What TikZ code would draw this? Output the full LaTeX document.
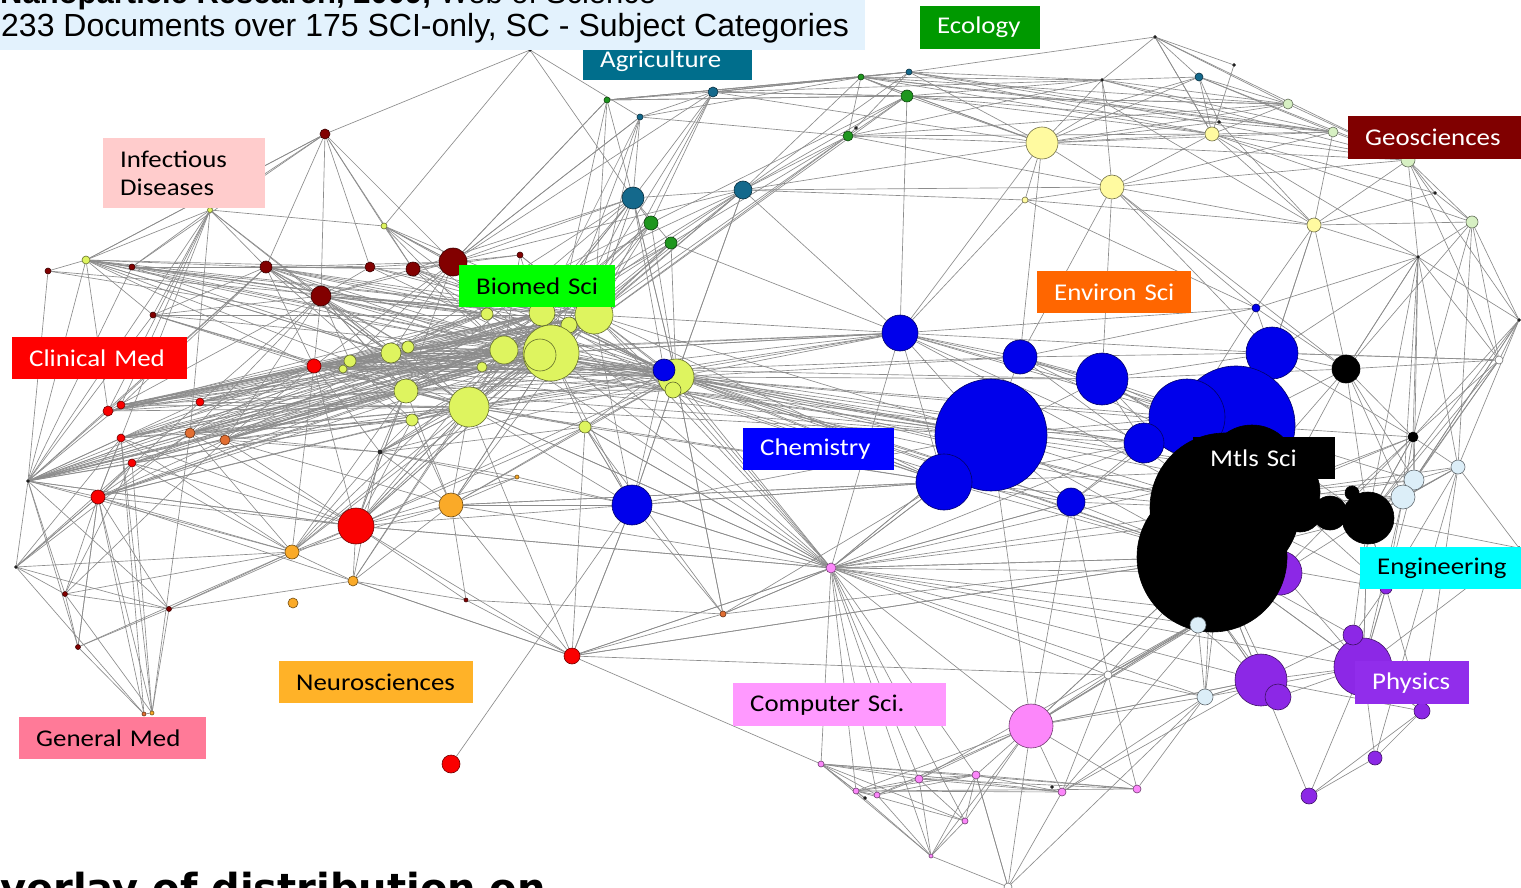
\documentclass[tikz,border=0pt]{standalone}
\usepackage{fontspec}
\newfontfamily\labfont[FakeStretch=1.12]{Carlito}
\newfontfamily\titlefont{Liberation Sans}
\newfontfamily\botfont{DejaVu Sans}
\pgfdeclarelayer{bg}
\pgfsetlayers{bg,main}
\definecolor{cyg}{RGB}{222,244,95}
\definecolor{cbl}{RGB}{0,0,235}
\definecolor{cpu}{RGB}{140,40,230}
\definecolor{clb}{RGB}{220,238,248}
\definecolor{cpk}{RGB}{252,135,250}
\definecolor{crd}{RGB}{250,0,0}
\definecolor{cdr}{RGB}{130,0,0}
\definecolor{cor}{RGB}{250,170,40}
\definecolor{cbr}{RGB}{225,110,50}
\definecolor{ctl}{RGB}{20,105,140}
\definecolor{cgr}{RGB}{30,150,30}
\definecolor{cyl}{RGB}{255,250,160}
\definecolor{clg}{RGB}{215,240,195}
\definecolor{cwh}{RGB}{255,255,255}
\definecolor{ckk}{RGB}{0,0,0}
\definecolor{cdk}{RGB}{40,40,40}
\definecolor{cedge}{RGB}{140,140,140}
\definecolor{ctitle}{RGB}{227,242,253}
\definecolor{lagri}{RGB}{0,110,140}
\definecolor{leco}{RGB}{0,153,0}
\definecolor{lgeo}{RGB}{128,0,0}
\definecolor{linf}{RGB}{255,204,204}
\definecolor{lbio}{RGB}{0,255,0}
\definecolor{lenv}{RGB}{255,102,0}
\definecolor{lcli}{RGB}{255,0,0}
\definecolor{lchem}{RGB}{0,0,255}
\definecolor{leng}{RGB}{0,255,255}
\definecolor{lphy}{RGB}{145,45,235}
\definecolor{lcomp}{RGB}{255,153,255}
\definecolor{lneu}{RGB}{255,178,40}
\definecolor{lgen}{RGB}{255,122,152}
\tikzset{
  nd/.style={circle,line width=0.6pt,inner sep=0pt,minimum size=#1pt},
  edge/.style={draw=cedge,line width=0.65pt},
  lab/.style={rectangle,inner ysep=0pt,inner xsep=17pt,anchor=north west,align=left,
    font=\labfont\fontsize{24}{28}\selectfont}
}
\begin{document}
\begin{tikzpicture}[x=1pt,y=-1pt]
\useasboundingbox (0,0) rectangle (1521,888);
\clip (0,0) rectangle (1521,888);
% ---------- nodes ----------
\foreach \n/\x/\y/\d/\c in {
 y1/594/315/38/cyg, y2/542/313/26/cyg, y3/569/325/16/cyg, y4/551/353/56/cyg, y4b/540/355/32/cyg,
 y5/504/350/28/cyg, y6/487/314/12/cyg, y7/482/367/10/cyg, y8/391/353/20/cyg, y9/408/347/12/cyg,
 y10/350/361/12/cyg, y11/343/369/8/cyg, y12/406/391/24/cyg, y13/469/407/40/cyg, y14/412/420/12/cyg,
 y15/676/377/36/cyg, y16/673/390/16/cyg, y17/585/427/12/cyg, y18/86/260/8/cyg, y19/384/226/6/cyg,
 b1/664/370/22/cbl, b2/632/505/40/cbl, b3/900/333/36/cbl, b4/1020/357/34/cbl, b5/1102/379/52/cbl,
 b6/991/435/112/cbl, b7/944/482/56/cbl, b8/1071/502/28/cbl, b9/1272/353/52/cbl, b10/1236/425/118/cbl,
 b11/1187/417/76/cbl, b12/1144/443/40/cbl, b13/1256/308/8/cbl,
 p1/1280/573/44/cpu,
 k1/1225/508/150/ckk, k2/1212/557/150/ckk, k3/1252/470/90/ckk, k11/1280/492/80/ckk, k10/1300/510/44/ckk, k5/1330/513/34/ckk,
 k4/1368/518/52/ckk, k6/1352/493/14/ckk, k7/1215/612/34/ckk, k8/1346/369/28/ckk, k9/1413/437/10/ckk,
 p2/1261/680/52/cpu, p3/1278/697/26/cpu, p4/1363/667/58/cpu, p5/1353/635/20/cpu, p6/1422/711/16/cpu,
 p7/1375/758/14/cpu, p8/1309/796/16/cpu, p9/1386/588/12/cpu,
 e1/1414/480/20/clb, e2/1403/497/24/clb, e3/1458/467/14/clb, e4/1198/625/16/clb, e5/1205/697/16/clb,
 e6/1499/360/8/cwh, e7/1108/675/8/cwh, e8/1008/887/8/cwh,
 c1/1031/726/44/cpk, c2/831/568/10/cpk, c3/821/764/6/cpk, c4/856/791/6/cpk, c5/877/795/6/cpk,
 c6/919/779/8/cpk, c7/976/775/8/cpk, c8/965/821/6/cpk, c9/1062/792/8/cpk, c10/1137/789/8/cpk, c11/931/856/4/cpk,
 r1/356/526/36/crd, r2/98/497/14/crd, r3/314/366/14/crd, r4/572/656/16/crd, r5/451/764/18/crd,
 r6/108/411/10/crd, r7/121/405/8/crd, r8/121/438/8/crd, r9/132/463/8/crd, r10/200/402/8/crd,
 d1/453/262/28/cdr, d2/321/296/20/cdr, d3/413/269/14/cdr, d4/370/267/10/cdr, d5/266/267/12/cdr,
 d6/325/134/10/cdr, d7/520/255/6/cdr, d8/48/271/6/cdr, d9/132/267/6/cdr, d10/153/315/6/cdr,
 d11/65/594/5/cdr, d12/169/609/5/cdr, d13/78/647/5/cdr, d14/466/600/4/cdr,
 o1/451/505/24/cor, o2/292/552/14/cor, o3/353/581/10/cor, o4/293/603/10/cor, o5/190/433/10/cbr,
 o6/225/440/10/cbr, o7/723/614/6/cbr, o8/517/477/4/cor, o9/152/713/4/cor, o10/144/714/4/cbr,
 t1/633/198/22/ctl, t2/743/190/18/ctl, t3/713/92/10/ctl, t4/640/117/6/ctl, t5/909/72/6/ctl, t6/1199/77/8/ctl,
 g1/651/223/14/cgr, g2/671/243/12/cgr, g3/848/136/10/cgr, g4/907/96/12/cgr, g5/861/77/6/cgr, g6/607/100/6/cgr,
 w1/1042/143/32/cyl, w2/1112/187/24/cyl, w3/1212/134/14/cyl, w4/1314/225/14/cyl, w5/1025/200/6/cyl,
 l1/1288/104/10/clg, l2/1333/132/10/clg, l3/1408/160/14/clg, l4/1472/222/12/clg,
 v1/28/481/3/cdk, v2/16/567/3/cdk, v3/380/452/4/cdk, v4/1102/80/3/cdk, v5/1107/104/3/cwh,
 v6/1155/37/3/cdk, v7/1234/65/3/cdk, v8/1219/122/3/cdk, v9/1435/193/3/cdk, v10/1418/257/3/cdk,
 v11/865/798/3/cdk, v12/1052/787/3/cdk, v13/530/50/3/cdk, v14/1519/320/3/cdk, v15/1519/548/3/cdk,
 v16/210/210/5/cyg, v17/856/128/3/cdk}
 \node[nd=\d,fill=\c,draw=\c!45!black] (\n) at (\x,\y) {};
% ---------- connectors ----------
\begin{pgfonlayer}{bg}
\fill[white] (0,0) rectangle (1521,888);
\foreach \a/\l in {
 y4/{r3,y10,y11,y8,d2,d5,r6,r7,r8,r9,r10,o5,o6,v1,y18,d8,d9,d10,r2,r1,o1,o2,y13,y12,d1,d3,d4,y9,y14,y5,y2,y1,y3,y6,y7,v3},
 y1/{r3,y10,y8,d2,d5,r6,r7,r10,o5,o6,v1,y18,d9,d10,r1,o1,y12,y13,d1,d3,d4,d7,y5,y9,y11,y14,r9,r2,v3,y7},
 y5/{r3,y10,y11,r6,r8,o5,v1,d2,d5,y18,r1,o2,o3,d1,d3,y8,y12,y13,y9,r7,r10,o6},
 y2/{r3,y11,r7,r9,o6,v1,d8,d5,d2,d1,d3,d4,y19,y8,y12,y13,y10,r6,o5},
 y3/{r3,y10,r6,o5,o6,d2,d5,y18,r1,o1,y8,y12,y13,r8},
 y13/{r3,y10,r6,r7,r8,o5,o6,v1,d2,d5,r2,r1,o2,o3,v3,y12,y14,y8,y9,r9,r10,d10,c2},
 y12/{r3,y10,r6,r8,o5,v1,d2,r2,r1,o2,y8,r7,r9,d5,d10},
 y8/{y10,r6,r7,o5,d5,v1,y18,r8,r10,d9},
 y9/{y10,r3,r7,r10,d5,d2,r6,o6},
 y6/{y10,r3,d2,d5,r6,d9,y18,y8},
 y7/{r3,y11,r8,o6,v1,r2,y8,y12},
 y14/{r3,y10,r8,o5,o6,r2},
 y15/{y1,y2,y3,y4,y5,y6,y7,y8,y9,y10,y11,y12,y13,y14,y17,r3,d1,d2,o1,r1,b2,b3,b6,b7,b12,b11,k1,k2,b8,b4,b5,t1,t2,g1,g2,c2,v3,k3,b10,o7,y4b},
 b1/{y1,y2,y4,y5,y8,y10,y12,y13,r3,d1,d3,b6,b7,b12,k1,k2,b3,b4,b5,b8,y17,c2,y9,y11,y6,d2},
 y16/{y4,y5,y13,y12,y8,r3,b6,k2,b7,k1,b12,y1,y2,c2},
 y17/{y4,y13,o1,r1,b2,c2,v3,b7,y12},
 t1/{y1,y2,y4,y5,y13,y8,d1,g1,g2,t3,t4,g6,b1,y15,t2,d3,y12},
 t2/{y1,y4,y5,y13,y15,g3,g4,g5,t5,b3,d1,y8,w5,w1,w2,y2},
 g1/{y1,y4,y2,y13,g4,t3,y5,y8},
 g2/{y4,y5,y13,y1,g3,y12,b3},
 g3/{g5,t5,g4,w1,y4,y1,t4,v4,w2,v17,l1,w3},
 g4/{w1,v4,w3,l1,l2,y4,t3,g6,b3},
 g5/{t3,g6,v4,v5,w3,l1,l2,t5,g4,w1,t4},
 t3/{t4,g6,y4,y1,d1,g5,t5,w1,l1,v4},
 t5/{v4,v6,w1,w3,g6,l2,v5},
 t4/{y4,y1,y2,d1},
 g6/{y4,y1,d1,g4,t5},
 w1/{w3,w2,l1,l2,v4,v5,w5,b3,l3,v8,g5,b4},
 w2/{w5,w3,b4,b5,w4,l3,v4,b9,k8,b13,l2},
 w3/{l1,l2,l3,v6,v7,w4,l4,v9,v10},
 w4/{l3,l4,v9,v10,b9,k8,w5,v8,l2},
 v6/{t6,v7,w3,l1,v4,l3},
 t6/{v4,v5,l1,l2,v8,w1,w3,l3},
 v4/{l1,l2,v5,l3},
 v5/{l3,l2,w4},
 l3/{l4,v9,v10,e6,v14,l2,l1},
 l4/{v9,v10,e6,v14,e3,k9},
 v10/{e6,k9,e1,e2,k8,b9,e3,k4,v14},
 v14/{e6,e3,k4,e1,e2,k9},
 e6/{k8,k9,e1,e2,b9,k4},
 b3/{b4,b5,b6,b7,b11,b9,k1,b12,w5,y13,y5,y4,y1,y8,b13,r3,c2,y12,b10},
 b6/{b4,b5,b8,b11,b12,k1,k2,b7,k3,c2,y13,y4,y5,y8,r3,y1,y12,b10,k11},
 b7/{b8,b12,k1,k2,c2,b2,o1,y4,y13,y1,k3},
 b4/{b5,b11,b9,k1,b13,k3,b10},
 b5/{b11,b12,k1,b9,k3,k8,b10,k11},
 b8/{k1,k2,b12,b11,c2,k3},
 b9/{k8,b13,k3,k1,k9,e6,w4,k11,b10},
 b10/{k8,e1,k4,k9},
 b13/{w5,w4,k8,v10,b11},
 k8/{k9,e1,k4,k1,v10,l4,k11,e2},
 k4/{e1,e2,e3,k9,p9,p4,p5,e4,v15,k1,k2},
 k9/{e1,e2,e3,k4,k6,p1,k11},
 k1/{e1,e2,p4,p9,k9},
 k11/{e1,e2,e3,p9},
 k2/{e4,e5,p1,p2,p3,p5,c1,c2,e7,k7,r4,o7,p4,e2,p9},
 k7/{e4,e5,p2,p3,c1,e7,c6,c9},
 e3/{e1,e2,k4,p9,v15},
 p4/{p5,p6,p7,p8,p9,p2,p3,e5,k4,k2,e2,v15},
 p2/{p3,p5,p6,p8,e5,e4,k2,k7,c1,c9},
 p9/{p5,p4,e1,e2,k4,p6},
 p6/{p7,p8,p4,e3},
 p7/{p8,e3},
 c2/{c1,c3,c4,c5,c6,c7,c11,c8,e7,e4,k2,k7,p2,o7,r4,b2,o1,r1,y17,b7,b6,e5,p4,y4,y1,y5,y2,y13,k1,k3,b12,b8,p1,e2},
 c1/{c6,c7,c9,c10,c8,c5,c4,c11,e4,e5,e7,p2,k2,k7,b8,b6},
 c3/{c4,c5,c6,c7,c8,c11,c9,c10,v11},
 c4/{c5,c6,c7,c9,c10,c11,c8},
 c6/{c7,c9,c10,c8,c5},
 c7/{c9,c10,c8,c5,e8},
 c11/{c5,c6,c7,e8,c8},
 e8/{c1,c9,e5,c7},
 e7/{e4,e5,k7,c9,c10,b8,r4},
 e5/{e4,p2,c10,c9},
 v1/{y18,d8,d9,r6,r7,r8,r9,r10,r2,v2,o5,o6,r3,y8,y12,d11,d13,d12,r1,o2,d5,d10,v16},
 y18/{d9,d5,v16,d8,d2,r3,y10,y8,d10,r6,d6,d4},
 d6/{v13,d5,d2,d4,v16,y19,d3,d1,y18,d9},
 v16/{d5,d2,r6,r7,d10,r2,o5,d9,y19,y8},
 y19/{d1,d3,y4,y1,y5},
 d1/{d3,d4,d5,d2,y19,d7,y10,y8,r3,y12,t4,g6},
 d2/{d5,d3,d4,y10,y8,r3,r6,r10,o5,o6,d10,y12},
 d5/{d4,d3,d10,r6,r7,y8,r3,d9},
 d7/{y5,y4,y1,d3},
 r3/{y10,y8,y11,d10,r6,r7,r8,o5,o6,r10,o2,r1},
 r1/{o1,o2,o3,r2,r9,y12,y13,y14,v3,r4,d14,o8,d12,o5,o6,r8,v1,b2,c2},
 r2/{r8,r9,o5,o6,d11,v2,d12,d13,o2,o3,r10,o9},
 o1/{o2,o3,v3,o8,y14,y13,r4,d14,b2,y12,o6,b7},
 o2/{o3,d12,d13,v3,r8,o5,r9,d11},
 o3/{d14,r4,v3,d12},
 o9/{o10,d12,d11,r9,o5,r8},
 o10/{d13,r2,r8,v2},
 v2/{d11,r2,r9,o5,r8,d12,o2},
 d13/{d11,d12,r2},
 d11/{d12,r9,o6},
 r4/{d14,o7,y13,y17,b2,c2,o3,c3,k2},
 r5/{b2},
 o7/{c2,b2,d14,y17,b7,y15},
 b2/{v3,y13,y17,o1,o8,b1,y15,y4,y1,c2,b7,b6,r4},
 v3/{y12,y13,y14,r3,o6,o5,o8},
 v13/{y19,t1,t4}}
 {\foreach \b in \l {\draw[edge] (\a) -- (\b);}}
\end{pgfonlayer}
% ---------- category labels ----------
\node[lab,fill=lagri,text=white,minimum height=38pt,text width=135pt] (agri) at (583,42) {\mbox{Agriculture}};
\fill[ctitle] (0,0) rectangle (865,50);
\node[anchor=base west,inner sep=0pt,font=\titlefont\fontsize{31}{34}\selectfont] (title1) at (0,4)
  {\bfseries Nanoparticle Research, 2009, \mdseries Web of Science};
\node[anchor=base west,inner sep=0pt,font=\titlefont\fontsize{32}{35}\selectfont] (title2) at (1,37)
  {233 Documents over 175 SCI-only, SC - Subject Categories};
\node[lab,fill=leco,text=white,minimum height=43pt,text width=86pt] (eco) at (920,6) {\mbox{Ecology}};
\node[lab,fill=lgeo,text=white,minimum height=43pt,text width=139pt] (geo) at (1348,116) {\mbox{Geosciences}};
\node[lab,fill=linf,text=black,minimum height=70pt,text width=128pt] (inf) at (103,138) {Infectious\\Diseases};
\node[lab,fill=lbio,text=black,minimum height=42pt,text width=122pt] (bio) at (459,265) {\mbox{Biomed Sci}};
\node[lab,fill=lenv,text=white,minimum height=42pt,text width=120pt] (env) at (1037,271) {\mbox{Environ Sci}};
\node[lab,fill=lcli,text=white,minimum height=42pt,text width=141pt] (cli) at (12,337) {\mbox{Clinical Med}};
\node[lab,fill=lchem,text=white,minimum height=42pt,text width=117pt] (chem) at (743,428) {\mbox{Chemistry}};
\node[lab,fill=black,text=white,minimum height=42pt,text width=108pt] (mtls) at (1193,437) {\mbox{Mtls Sci}};
\node[lab,fill=leng,text=black,minimum height=42pt,text width=127pt] (eng) at (1360,547) {\mbox{Engineering}};
\node[lab,fill=lphy,text=white,minimum height=43pt,text width=80pt] (phy) at (1355,661) {\mbox{Physics}};
\node[lab,fill=lcomp,text=black,minimum height=43pt,text width=179pt] (comp) at (733,683) {\mbox{Computer Sci.}};
\node[lab,fill=lneu,text=black,minimum height=42pt,text width=160pt] (neu) at (279,661) {\mbox{Neurosciences}};
\node[lab,fill=lgen,text=black,minimum height=42pt,text width=153pt] (gen) at (19,717) {\mbox{General Med}};
% ---------- bottom heading ----------
\node[anchor=base west,inner sep=0pt,font=\botfont\bfseries\fontsize{40}{44}\selectfont] (bottom) at (-34,902)
  {Overlay of distribution on};
\end{tikzpicture}
\end{document}
